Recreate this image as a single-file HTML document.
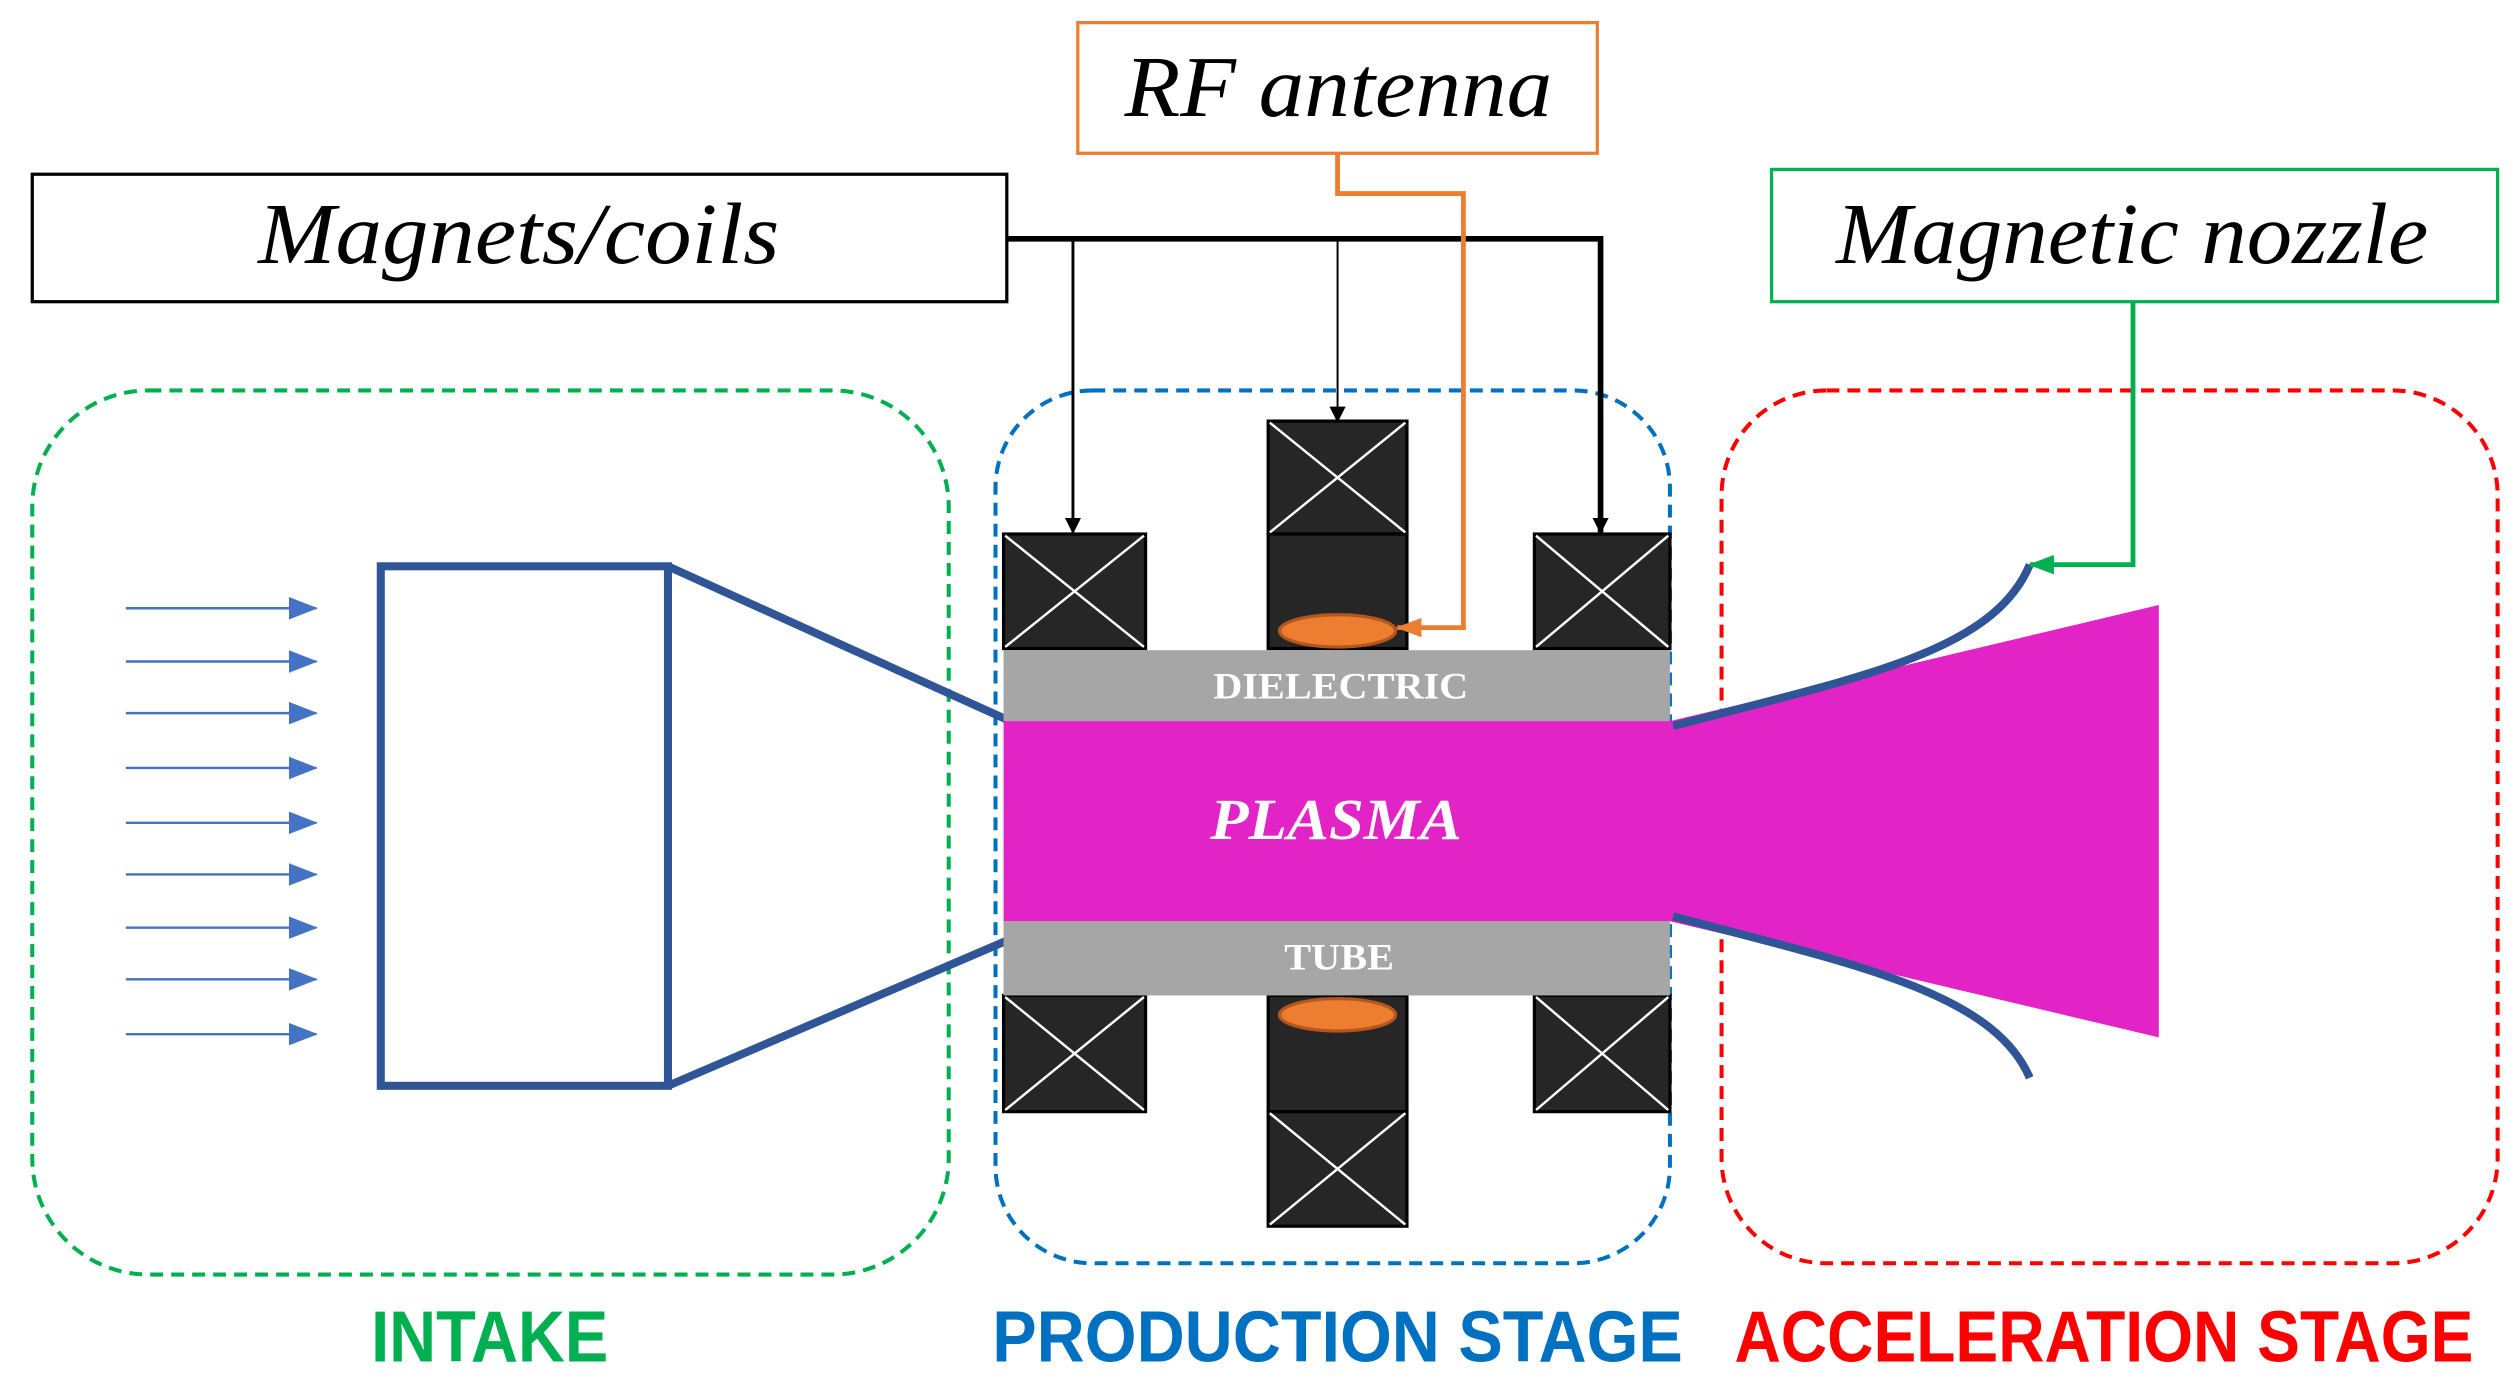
<!DOCTYPE html>
<html><head><meta charset="utf-8"><style>html,body{margin:0;padding:0;background:#fff}svg{display:block}</style></head>
<body>
<svg width="2517" height="1393" viewBox="0 0 1560 863.4" preserveAspectRatio="none" xmlns="http://www.w3.org/2000/svg">
<defs>
<marker id="ab" markerWidth="10" markerHeight="10" refX="9" refY="5" orient="auto" markerUnits="userSpaceOnUse" viewBox="0 0 10 10"><path d="M0,0L10,5L0,10z" fill="#000"/></marker>
<marker id="abl" markerWidth="18" markerHeight="14" refX="17" refY="7" orient="auto" markerUnits="userSpaceOnUse" viewBox="0 0 18 14"><path d="M0,0L18,7L0,14z" fill="#4472C4"/></marker>
<marker id="ao" markerWidth="16" markerHeight="12" refX="15" refY="6" orient="auto" markerUnits="userSpaceOnUse" viewBox="0 0 16 12"><path d="M0,0L16,6L0,12z" fill="#ED7D31"/></marker>
<marker id="ag" markerWidth="16" markerHeight="12" refX="15" refY="6" orient="auto" markerUnits="userSpaceOnUse" viewBox="0 0 16 12"><path d="M0,0L16,6L0,12z" fill="#00B050"/></marker>
</defs>
<rect x="20" y="242" width="568" height="548" rx="72" fill="none" stroke="#00B050" stroke-width="2.5" stroke-dasharray="8,5"/>
<rect x="617" y="242" width="418" height="541" rx="60" fill="none" stroke="#0070C0" stroke-width="2.5" stroke-dasharray="8,5"/>
<rect x="1067" y="242" width="481" height="541" rx="65" fill="none" stroke="#FF0000" stroke-width="2.5" stroke-dasharray="8,5"/>
<g stroke="#4472C4" stroke-width="1.5" marker-end="url(#abl)">
<line x1="78" y1="377" x2="196" y2="377"/><line x1="78" y1="410" x2="196" y2="410"/><line x1="78" y1="442" x2="196" y2="442"/><line x1="78" y1="476" x2="196" y2="476"/><line x1="78" y1="510" x2="196" y2="510"/><line x1="78" y1="542" x2="196" y2="542"/><line x1="78" y1="575" x2="196" y2="575"/><line x1="78" y1="607" x2="196" y2="607"/><line x1="78" y1="641" x2="196" y2="641"/>
</g>
<rect x="236" y="351" width="178" height="322" fill="none" stroke="#2F5597" stroke-width="5"/>
<line x1="414" y1="351" x2="624" y2="446" stroke="#2F5597" stroke-width="5"/>
<line x1="414" y1="673" x2="624" y2="583" stroke="#2F5597" stroke-width="5"/>
<g fill="#262626" stroke="#000" stroke-width="2">
<rect x="622" y="331" width="88" height="71"/><rect x="786" y="261" width="86" height="70"/><rect x="786" y="331" width="86" height="71"/><rect x="951" y="331" width="84" height="71"/>
<rect x="622" y="617" width="88" height="72"/><rect x="786" y="617" width="86" height="72"/><rect x="786" y="689" width="86" height="71"/><rect x="951" y="617" width="84" height="72"/>
</g>
<g stroke="#fff" stroke-width="1.5">
<path d="M623,332L709,401M709,332L623,401"/><path d="M787,262L871,330M871,262L787,330"/><path d="M952,332L1034,401M1034,332L952,401"/>
<path d="M623,618L709,688M709,618L623,688"/><path d="M787,690L871,759M871,690L787,759"/><path d="M952,618L1034,688M1034,618L952,688"/>
</g>
<ellipse cx="829" cy="391" rx="36" ry="10" fill="#ED7D31" stroke="#B5571C" stroke-width="2"/>
<ellipse cx="829" cy="629" rx="36" ry="10" fill="#ED7D31" stroke="#B5571C" stroke-width="2"/>
<rect x="622" y="403" width="413" height="44" fill="#A6A6A6"/>
<rect x="622" y="571" width="413" height="46" fill="#A6A6A6"/>
<path d="M622,447L1035,447L1338,375L1338,643L1035,571L622,571z" fill="#E223C6"/>
<text x="752" y="433" font-family="Liberation Serif,serif" font-weight="bold" font-size="23" fill="#fff" textLength="158" lengthAdjust="spacingAndGlyphs">DIELECTRIC</text>
<text x="796" y="601" font-family="Liberation Serif,serif" font-weight="bold" font-size="23" fill="#fff" textLength="68" lengthAdjust="spacingAndGlyphs">TUBE</text>
<text x="750" y="520" font-family="Liberation Serif,serif" font-weight="bold" font-style="italic" font-size="36" fill="#fff" textLength="156" lengthAdjust="spacingAndGlyphs">PLASMA</text>
<path d="M1037,450 C1150,420 1235,405 1258,350" fill="none" stroke="#2F5597" stroke-width="5"/>
<path d="M1037,568 C1150,598 1235,615 1258,668" fill="none" stroke="#2F5597" stroke-width="5"/>
<rect x="20" y="108" width="604" height="79" fill="#fff" stroke="#000" stroke-width="2"/>
<text x="160" y="163" font-family="Liberation Serif,serif" font-style="italic" font-size="54" textLength="323" lengthAdjust="spacingAndGlyphs">Magnets/coils</text>
<rect x="668" y="14" width="322" height="81" fill="#fff" stroke="#ED7D31" stroke-width="2"/>
<text x="697" y="72" font-family="Liberation Serif,serif" font-style="italic" font-size="54" textLength="265" lengthAdjust="spacingAndGlyphs">RF antenna</text>
<rect x="1098" y="105" width="450" height="82" fill="#fff" stroke="#00B050" stroke-width="2"/>
<text x="1138" y="163" font-family="Liberation Serif,serif" font-style="italic" font-size="54" textLength="367" lengthAdjust="spacingAndGlyphs">Magnetic nozzle</text>
<path d="M624,148L992,148L992,330" fill="none" stroke="#000" stroke-width="3.5" marker-end="url(#ab)"/>
<path d="M665,148L665,330" fill="none" stroke="#000" stroke-width="1.8" marker-end="url(#ab)"/>
<path d="M829,148L829,261" fill="none" stroke="#000" stroke-width="1.2" marker-end="url(#ab)"/>
<path d="M829,95L829,120L907,120L907,389L866,389" fill="none" stroke="#ED7D31" stroke-width="3" marker-end="url(#ao)"/>
<path d="M1322,187L1322,350L1258,350" fill="none" stroke="#00B050" stroke-width="3" marker-end="url(#ag)"/>
<g font-family="Liberation Sans,sans-serif" font-weight="bold" font-size="45">
<text x="230" y="844" fill="#00B050" textLength="147" lengthAdjust="spacingAndGlyphs">INTAKE</text>
<text x="615" y="844" fill="#0070C0" textLength="428" lengthAdjust="spacingAndGlyphs">PRODUCTION STAGE</text>
<text x="1075" y="844" fill="#FF0000" textLength="458" lengthAdjust="spacingAndGlyphs">ACCELERATION STAGE</text>
</g>
</svg>
</body></html>
